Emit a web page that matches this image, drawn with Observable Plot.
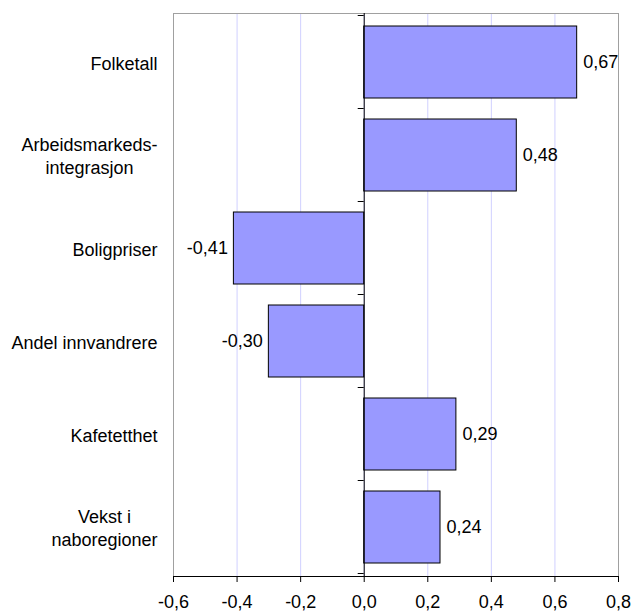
<!DOCTYPE html>
<html><head><meta charset="utf-8">
<script src="https://cdn.jsdelivr.net/npm/d3@7"></script>
<script src="https://cdn.jsdelivr.net/npm/@observablehq/plot@0.6"></script>
<style>html,body{margin:0;padding:0;background:#fff;}</style>
</head><body><div id="chart"></div>
<script>
const categories = ["Folketall", "Arbeidsmarkeds-\nintegrasjon", "Boligpriser", "Andel innvandrere", "Kafetetthet", "Vekst i\nnaboregioner"];
const values = [0.67, 0.48, -0.41, -0.30, 0.29, 0.24];
const xTicks = [-0.6, -0.4, -0.2, 0, 0.2, 0.4, 0.6, 0.8];

const data = categories.map((c, i) => ({category: c, value: values[i]}));
const comma = s => s.replace(".", ",").replace("\u2212", "-");
const fmt1 = v => comma(d3.format(".1f")(v));
const fmt2 = v => comma(d3.format(".2f")(v));

const plot = Plot.plot({
  width: 632, height: 614,
  marginLeft: 173, marginRight: 14, marginTop: 13, marginBottom: 38,
  style: {fontFamily: "'Liberation Sans', Arial, sans-serif", fontSize: "18px", color: "#000", background: "#fff", overflow: "visible"},
  x: {domain: [-0.6, 0.8], label: null},
  y: {domain: categories, paddingInner: 0.23, paddingOuter: 0.115, label: null},
  marks: [
    Plot.gridX(xTicks, {stroke: "#d0d0ff", strokeOpacity: 1}),
    Plot.frame({stroke: "#a0a0a0"}),
    Plot.barX(data, {x: "value", y: "category", fill: "#9999ff", stroke: "#000", strokeWidth: 1}),
    Plot.ruleX([0], {stroke: "#000"}),
    Plot.frame({anchor: "bottom", stroke: "#000"}),
    Plot.text(data.filter(d => d.value >= 0), {x: "value", y: "category", text: d => fmt2(d.value), textAnchor: "start", dx: 6}),
    Plot.text(data.filter(d => d.value < 0), {x: "value", y: "category", text: d => fmt2(d.value), textAnchor: "end", dx: -6}),
    Plot.axisX(xTicks, {tickFormat: fmt1, tickSize: 6, tickPadding: 13, stroke: "#000", label: null}),
    Plot.axisY({tickSize: 0, tickPadding: 16, lineHeight: 1.25, label: null})
  ]
});
document.getElementById("chart").append(plot);

// center the lines of multi-line category labels within their block
d3.select(plot).selectAll("g[aria-label='y-axis tick label'] text").each(function() {
  const tspans = d3.select(this).selectAll("tspan");
  if (tspans.size() > 1) {
    const bb = this.getBBox();
    d3.select(this).attr("text-anchor", "middle");
    tspans.attr("x", bb.x + bb.width / 2);
  }
});

// small category separator ticks on the left of the zero line
const xs = plot.scale("x"), ys = plot.scale("y");
const x0 = xs.apply(0);
const half = (ys.step - ys.bandwidth) / 2;
const bounds = categories.map(c => ys.apply(c) - half).concat([ys.apply(categories[categories.length - 1]) + ys.bandwidth + half]);
d3.select(plot).append("g").selectAll("line").data(bounds).join("line")
  .attr("x1", x0 - 6).attr("x2", x0).attr("y1", d => d).attr("y2", d => d)
  .attr("stroke", "#000");
</script>
</body></html>
